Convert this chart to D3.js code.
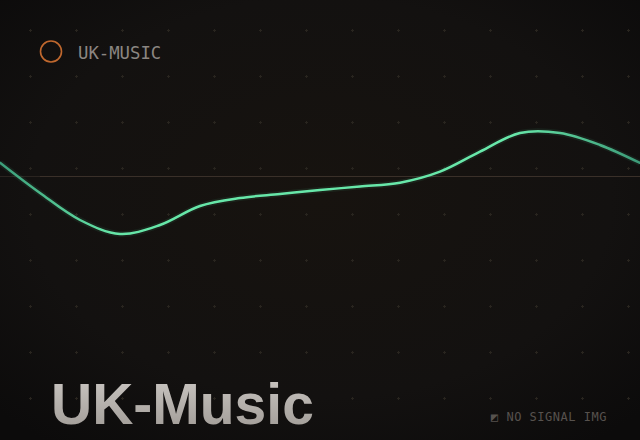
<!DOCTYPE html>
<html><head><meta charset="utf-8">
<script src="https://cdn.jsdelivr.net/npm/d3@7"></script>
<style>html,body{margin:0;padding:0;background:#100e0d;overflow:hidden}</style>
</head><body>
<svg id="c" width="640" height="440"></svg>
<script>
// ---- data ----
const periods = [0,1,2,3,4,5,6,7,8,9,10,11,12,13,14,15,16];
const values  = [13.8,-16.5,-43.5,-57.5,-48.5,-29.5,-21.5,-17.5,-13.5,-10,-6.2,4.8,24.8,43.5,43.5,31.5,13.5];
const seriesName = "UK-MUSIC";
const title = "UK-Music";
const placeholder = "\u25E9 NO SIGNAL IMG";
const gridCols = [0,1,2,3,4,5,6,7,8,9,10,11,12,13];
const gridRows = [0,1,2,3,4,5,6,7,8];

const W = 640, H = 440;
const svg = d3.select("#c");
const defs = svg.append("defs");

// background vignette
const bg = defs.append("radialGradient").attr("id","bg").attr("cx","50%").attr("cy","45%").attr("r","70%");
bg.append("stop").attr("offset","0%").attr("stop-color","#17130f");
bg.append("stop").attr("offset","65%").attr("stop-color","#131110");
bg.append("stop").attr("offset","100%").attr("stop-color","#0c0b0b");
svg.append("rect").attr("width",W).attr("height",H).attr("fill","url(#bg)");

// grid crosses
const gx = d3.scaleLinear().domain([0,13]).range([30,628]);
const gy = d3.scaleLinear().domain([0,8]).range([30,398]);
const grid = svg.append("g").attr("stroke","#29251f").attr("stroke-width",1);
gridRows.forEach(r => gridCols.forEach(c => {
  const X = Math.round(gx(c))+0.5, Y = Math.round(gy(r))+0.5;
  grid.append("line").attr("x1",X-1.5).attr("x2",X+1.5).attr("y1",Y).attr("y2",Y);
  grid.append("line").attr("x1",X).attr("x2",X).attr("y1",Y-1.5).attr("y2",Y+1.5);
}));

// scales
const x = d3.scaleLinear().domain([0,16]).range([0,640]);
const y = d3.scaleLinear().domain([-60,60]).range([236.5,116.5]);

// baseline
svg.append("line").attr("x1",0).attr("x2",40).attr("y1",y(0)).attr("y2",y(0))
  .attr("stroke","#2a2420").attr("stroke-width",1);
svg.append("line").attr("x1",40).attr("x2",W).attr("y1",y(0)).attr("y2",y(0))
  .attr("stroke","#3a3029").attr("stroke-width",1);

// line gradient
const lg = defs.append("linearGradient").attr("id","lg").attr("gradientUnits","userSpaceOnUse")
  .attr("x1",0).attr("x2",W).attr("y1",0).attr("y2",0);
lg.append("stop").attr("offset","0%").attr("stop-color","#3c9e7a");
lg.append("stop").attr("offset","18%").attr("stop-color","#66e6a8");
lg.append("stop").attr("offset","80%").attr("stop-color","#68e8aa");
lg.append("stop").attr("offset","100%").attr("stop-color","#3c9a78");

const line = d3.line().x((d,i)=>x(periods[i])).y(d=>y(d)).curve(d3.curveCatmullRom.alpha(0.5));
svg.append("path").datum(values).attr("d",line).attr("fill","none")
  .attr("stroke","#5fe0a2").attr("stroke-opacity",0.08).attr("stroke-width",6);
svg.append("path").datum(values).attr("d",line).attr("fill","none")
  .attr("stroke","url(#lg)").attr("stroke-width",2.5).attr("stroke-linecap","round");

// legend
svg.append("circle").attr("cx",51).attr("cy",51.5).attr("r",10.5)
  .attr("fill","none").attr("stroke","#c0682e").attr("stroke-width",1.6);
svg.append("text").attr("x",78).attr("y",59).text(seriesName)
  .attr("font-family","'DejaVu Sans Mono', monospace").attr("font-size",17.3)
  .attr("fill","#8b8682");

// title
const tg = defs.append("linearGradient").attr("id","tg").attr("x1",0).attr("x2",0).attr("y1",0).attr("y2",1);
tg.append("stop").attr("offset","0%").attr("stop-color","#cdc9c5");
tg.append("stop").attr("offset","100%").attr("stop-color","#9d9893");
svg.append("text").attr("x",51).attr("y",424).text(title)
  .attr("font-family","'Liberation Sans', Arial, sans-serif").attr("font-weight","bold")
  .attr("font-size",57).attr("letter-spacing",0).attr("fill","url(#tg)");

// placeholder note
svg.append("text").attr("x",491).attr("y",421).text(placeholder)
  .attr("font-family","'DejaVu Sans Mono', monospace").attr("font-size",12)
  .attr("letter-spacing",0.5).attr("fill","#57524e");
</script>
</body></html>
